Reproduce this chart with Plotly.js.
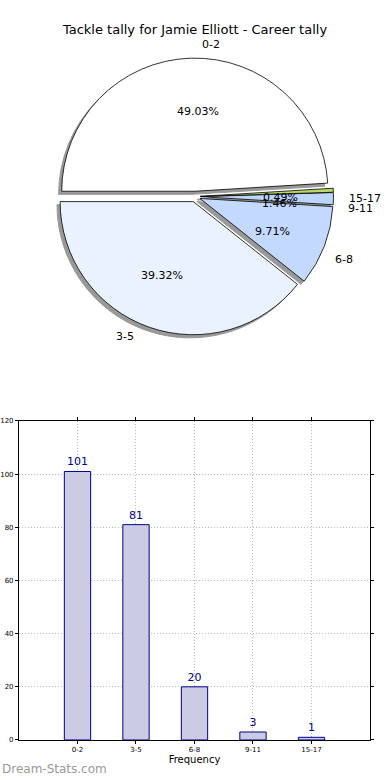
<!DOCTYPE html>
<html><head><meta charset="utf-8">
<script src="https://cdn.plot.ly/plotly-3.0.1.min.js"></script>
<style>html,body{margin:0;padding:0;background:#fff}#chart{width:390px;height:780px}</style>
</head><body><div id="chart"></div>
<script>
const categories = ["0-2", "3-5", "6-8", "9-11", "15-17"];
const tackleCounts = [101, 81, 20, 3, 1];
const sliceColors = ["#ffffff", "#eaf2ff", "#c4d9ff", "#bcd5fa", "#b8d86a"];
const yTicks = [0, 20, 40, 60, 80, 100, 120];

const W = 390, H = 780;
const PULL = 0.04;
const pieDomain = {x: [0.05, 0.95], y: [0.5705, 0.9255]};
const shadowDomain = {x: [pieDomain.x[0] - 0.008, pieDomain.x[1] - 0.008], y: [pieDomain.y[0] - 0.004, pieDomain.y[1] - 0.004]};

const shadow = {
  type: "pie", labels: categories, values: tackleCounts, sort: false,
  direction: "counterclockwise", rotation: -90, pull: PULL,
  marker: {colors: categories.map(() => "#999999"), line: {color: "#999999", width: 1}},
  textinfo: "none", hoverinfo: "skip", showlegend: false, domain: shadowDomain
};
const mainPie = {
  type: "pie", labels: categories, values: tackleCounts, sort: false,
  direction: "counterclockwise", rotation: -90, pull: PULL,
  marker: {colors: sliceColors, line: {color: "#000", width: 0.8}},
  textinfo: "none", showlegend: false, domain: pieDomain
};

const bars = {
  type: "bar", x: categories, y: tackleCounts, width: 0.45,
  marker: {color: "#cbcbe3", line: {color: "#00008b", width: 1}},
  text: tackleCounts.map(String), textposition: "outside", cliponaxis: false,
  textfont: {family: "DejaVu Sans", size: 11, color: "#00008b"},
  xaxis: "x", yaxis: "y", showlegend: false
};

const baseAnnotations = [{text: "Dream-Stats.com", xref: "paper", yref: "paper", x: 0, y: 0.003, xanchor: "left", yanchor: "bottom",
  showarrow: false, font: {family: "DejaVu Sans", size: 12, color: "#999"}}];

const layout = {
  width: W, height: H, margin: {l: 0, r: 0, t: 0, b: 0},
  paper_bgcolor: "#fff", plot_bgcolor: "#fff",
  font: {family: "DejaVu Sans", color: "#000"},
  title: {text: "Tackle tally for Jamie Elliott - Career tally", font: {size: 13, family: "DejaVu Sans"}, x: 0.5, xanchor: "center", y: 0.962, yanchor: "middle"},
  xaxis: {domain: [0.0487, 0.9487], range: [-1, 5], type: "category",
    showgrid: true, gridcolor: "#b8b8b8", griddash: "1px,2px", gridwidth: 1,
    showline: true, linecolor: "#000", linewidth: 1, mirror: "ticks",
    ticks: "outside", ticklen: 3, tickcolor: "#000", tickfont: {size: 7},
    title: {text: "Frequency", font: {size: 10}, standoff: 2}, zeroline: false, fixedrange: true},
  yaxis: {domain: [0.0513, 0.4603], range: [0, 120], tickvals: yTicks,
    showgrid: true, gridcolor: "#b8b8b8", griddash: "1px,2px", gridwidth: 1,
    showline: true, linecolor: "#000", linewidth: 1, mirror: "ticks",
    ticks: "outside", ticklen: 3, tickcolor: "#000", tickfont: {size: 7}, zeroline: false, fixedrange: true},
  annotations: baseAnnotations
};

const gd = document.getElementById("chart");
Plotly.newPlot(gd, [shadow, mainPie, bars], layout, {displayModeBar: false, staticPlot: true}).then(() => {
  const cd0 = gd.calcdata[1][0];
  const cx = cd0.cx, cy = cd0.cy, r = cd0.r;
  const total = tackleCounts.reduce((a, b) => a + b, 0);
  const anns = baseAnnotations.slice();
  let cum = 0;
  tackleCounts.forEach((v, i) => {
    const mid = 2 * Math.PI * (cum + v / 2) / total;
    cum += v;
    const dx = Math.cos(mid), dy = -Math.sin(mid);
    const ox = cx + PULL * r * dx, oy = cy + PULL * r * dy;
    const lx = ox + 1.1 * r * dx, ly = oy + 1.1 * r * dy;
    const px = ox + 0.6 * r * dx, py = oy + 0.6 * r * dy;
    anns.push({text: categories[i], xref: "paper", yref: "paper", x: lx / W, y: 1 - ly / H,
      xanchor: dx > 0 ? "left" : "right", yanchor: "middle", showarrow: false,
      font: {family: "DejaVu Sans", size: 11, color: "#000"}});
    anns.push({text: (100 * v / total).toFixed(2) + "%", xref: "paper", yref: "paper", x: px / W, y: 1 - py / H,
      xanchor: "center", yanchor: "middle", showarrow: false,
      font: {family: "DejaVu Sans", size: 11, color: "#000"}});
  });
  return Plotly.relayout(gd, {annotations: anns});
});
</script></body></html>
